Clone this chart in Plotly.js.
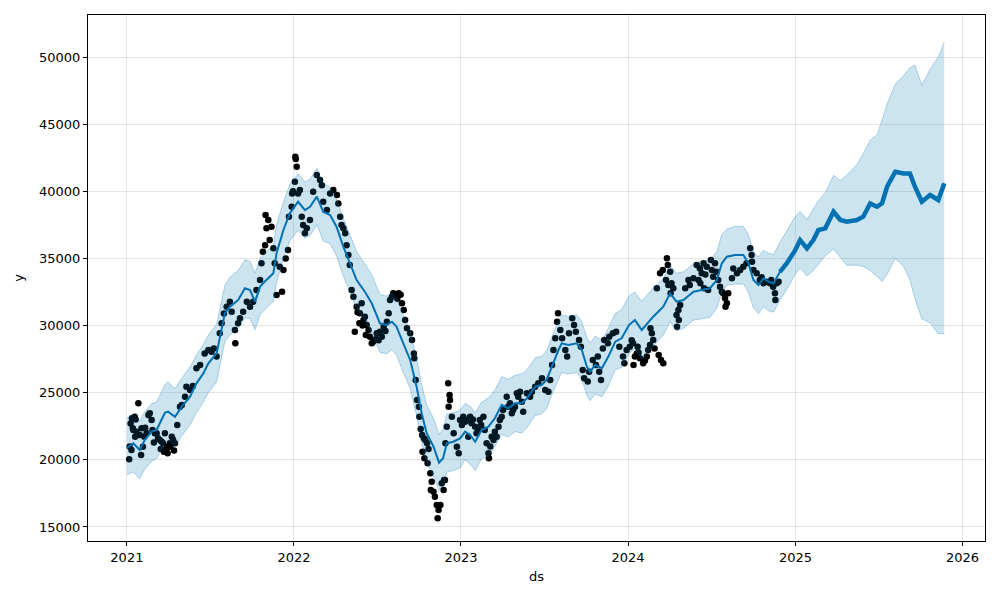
<!DOCTYPE html>
<html>
<head>
<meta charset="utf-8">
<script src="https://cdn.plot.ly/plotly-3.0.1.min.js"></script>
<style>html,body{margin:0;padding:0;background:#fff}#chart{width:1000px;height:600px}</style>
</head>
<body>
<div id="chart"></div>
<script>
// ---- observed history (ds, y) ----
const obsDates = [
'2021-01-06','2021-01-07','2021-01-11','2021-01-12','2021-01-14','2021-01-15','2021-01-18','2021-01-19','2021-01-22','2021-01-26',
'2021-01-29','2021-02-01','2021-02-02','2021-02-05','2021-02-08','2021-02-17','2021-02-20','2021-02-24','2021-02-26','2021-03-03',
'2021-03-07','2021-03-10','2021-03-14','2021-03-18','2021-03-21','2021-03-25','2021-03-29','2021-03-31','2021-04-05','2021-04-06',
'2021-04-09','2021-04-12','2021-04-16','2021-04-21','2021-04-27','2021-05-01','2021-05-08','2021-05-11','2021-05-19','2021-05-25',
'2021-06-02','2021-06-10','2021-06-20','2021-06-28','2021-07-05','2021-07-10','2021-07-16','2021-07-23','2021-07-27','2021-08-01',
'2021-08-07','2021-08-14','2021-08-18','2021-08-25','2021-08-26','2021-09-01','2021-09-05','2021-09-12','2021-09-20','2021-09-27',
'2021-10-04','2021-10-11','2021-10-19','2021-10-22','2021-10-25','2021-10-30','2021-10-31','2021-11-02','2021-11-06','2021-11-09',
'2021-11-13','2021-11-17','2021-11-20','2021-11-24','2021-12-01','2021-12-06','2021-12-09','2021-12-14','2021-12-19','2021-12-21',
'2021-12-27','2021-12-28','2021-12-30',
'2022-01-03','2022-01-04','2022-01-05','2022-01-07','2022-01-10','2022-01-14','2022-01-18','2022-01-21','2022-01-25','2022-01-29',
'2022-02-05','2022-02-12','2022-02-20','2022-02-27','2022-03-03','2022-03-06','2022-03-14','2022-03-21','2022-03-28','2022-04-05',
'2022-04-08','2022-04-12','2022-04-15','2022-04-19','2022-04-23','2022-04-26','2022-04-30','2022-05-03','2022-05-07','2022-05-11',
'2022-05-14','2022-05-18','2022-05-24','2022-05-25','2022-05-29','2022-06-02','2022-06-05','2022-06-09','2022-06-13','2022-06-16',
'2022-06-20','2022-06-27','2022-07-01','2022-07-08','2022-07-12','2022-07-16','2022-07-23','2022-07-27','2022-07-30','2022-08-03',
'2022-08-10','2022-08-18','2022-08-25','2022-08-29','2022-09-01','2022-09-05','2022-09-12','2022-09-16','2022-09-20','2022-09-21',
'2022-09-24','2022-09-27','2022-10-01','2022-10-02','2022-10-08','2022-10-09','2022-10-12','2022-10-13','2022-10-15','2022-10-19',
'2022-10-20','2022-10-26','2022-10-27','2022-10-29','2022-11-02','2022-11-05','2022-11-09','2022-11-11','2022-11-13','2022-11-17',
'2022-11-20','2022-11-24','2022-11-25','2022-11-27','2022-11-28','2022-12-01','2022-12-04','2022-12-05','2022-12-07','2022-12-08',
'2022-12-12','2022-12-16','2022-12-23','2022-12-27','2022-12-30',
'2023-01-06','2023-01-10','2023-01-13','2023-01-17','2023-01-21','2023-01-24','2023-02-01','2023-02-04','2023-02-08','2023-02-11',
'2023-02-19','2023-02-22','2023-02-26','2023-03-02','2023-03-03','2023-03-09','2023-03-13','2023-03-16','2023-03-20','2023-03-24',
'2023-03-27','2023-03-31','2023-04-03','2023-04-11','2023-04-14','2023-04-18','2023-04-22','2023-04-25','2023-04-29','2023-05-03',
'2023-05-06','2023-05-10','2023-05-14','2023-05-17','2023-05-25','2023-06-01','2023-06-05','2023-06-12','2023-06-19','2023-06-27',
'2023-07-04','2023-07-11','2023-07-15','2023-07-19','2023-07-22','2023-07-26','2023-07-30','2023-08-01','2023-08-06','2023-08-10',
'2023-08-17','2023-08-21','2023-08-25','2023-09-01','2023-09-05','2023-09-09','2023-09-16','2023-09-20','2023-09-24','2023-09-27',
'2023-10-05','2023-10-08','2023-10-16','2023-10-23','2023-10-27','2023-10-30','2023-11-03','2023-11-07','2023-11-10','2023-11-18',
'2023-11-21','2023-11-29','2023-12-06','2023-12-13','2023-12-21','2023-12-24','2023-12-29',
'2024-01-05','2024-01-12','2024-01-13','2024-01-16','2024-01-20','2024-01-22','2024-01-27','2024-02-03','2024-02-11','2024-02-14',
'2024-02-18','2024-02-19','2024-02-22','2024-02-25','2024-03-04','2024-03-08','2024-03-11','2024-03-13','2024-03-17','2024-03-18',
'2024-03-24','2024-03-26','2024-03-28','2024-03-29','2024-04-02','2024-04-03','2024-04-05','2024-04-09','2024-04-16','2024-04-17',
'2024-04-20','2024-04-21','2024-04-24','2024-05-05','2024-05-12','2024-05-15','2024-05-23','2024-05-30','2024-06-03','2024-06-06',
'2024-06-07','2024-06-10','2024-06-14','2024-06-15','2024-06-21','2024-06-24','2024-06-30','2024-07-02','2024-07-05','2024-07-09',
'2024-07-20','2024-07-24','2024-07-27','2024-07-31','2024-08-01','2024-08-04','2024-08-07','2024-08-15','2024-08-18','2024-08-26',
'2024-09-02','2024-09-09','2024-09-16','2024-09-24','2024-09-27','2024-09-28','2024-10-01','2024-10-08','2024-10-15','2024-10-23',
'2024-10-30','2024-11-06','2024-11-13','2024-11-17','2024-11-18','2024-11-21','2024-11-25',
// extra points in the dense clusters
'2021-01-09','2021-01-20','2021-02-10','2021-02-13','2021-03-01','2021-03-16','2021-03-23','2021-04-02','2021-04-14',
'2022-05-20','2022-05-31','2022-06-07','2022-06-23','2022-06-30','2022-07-05','2022-07-20','2022-08-06','2022-08-15','2022-08-22',
'2022-10-05','2022-10-22','2023-01-03','2023-01-27','2023-02-14','2023-03-06',
'2024-01-09','2024-01-24','2024-02-07','2024-02-28','2024-06-18','2024-07-12','2024-07-16','2024-10-19','2024-11-09'
];
const obsValues = [
20040,21000,20730,23100,22350,22220,23210,21720,22100,24210,
21850,20360,22350,20980,21720,23340,23470,22970,22220,21980,
21980,21600,21480,21350,21230,21980,20860,20490,21230,20980,
21720,21500,21230,22600,23960,24090,24700,25450,25200,25500,
26820,27060,27930,28180,28050,28300,27690,29420,30170,30900,
31400,31780,31030,29670,28680,30170,30540,31030,31780,31400,
31780,32650,33390,34640,35500,35990,38230,37240,37860,36370,
37360,35750,34640,32280,34390,32520,34140,35000,35630,38110,
38850,39840,40000,
40710,42570,42400,41830,39840,40090,38110,37490,36870,37240,
37860,39970,41210,40840,40460,39230,38600,39840,40090,39720,
39100,38110,37490,37240,36870,35990,35260,34510,32650,32150,
29540,31400,30170,30910,31660,30420,30660,30040,29670,29170,
28680,28930,29420,29540,29170,29920,30290,30910,31900,32150,
32280,32400,31660,31160,30420,29800,29420,28930,27930,27560,
25950,24460,23960,23210,21850,20610,21600,20120,21480,21230,
19740,19000,17760,18370,17630,17260,16640,15650,16270,16640,
18250,17760,18500,18500,21230,22470,25700,23960,24830,24460,
23210,21980,20980,20490,22970,
23210,22840,22970,21720,23210,22720,22470,21980,22220,22970,
23210,22220,21230,20490,20120,21720,21480,22100,21720,22470,
22970,23210,23710,24700,23960,24210,23470,23710,23960,24960,
24700,25080,24330,23590,24960,24700,25080,25450,25700,26070,
25200,25080,25950,27060,28180,29050,30290,30910,29670,29050,
28180,27690,29420,30540,30040,29540,28930,28430,26690,26070,
25830,26570,27440,27060,27690,26570,25950,28300,28930,28680,
29170,29420,29540,28430,27690,27190,28180,
28430,28680,27060,27690,27930,28430,27560,27190,27690,28180,
28550,29800,29420,28930,32780,27810,33890,27440,34140,27190,
33390,35010,34510,33020,34010,32400,33150,32780,30790,29920,
31160,30420,31530,32780,33390,33020,33520,34510,33390,34260,
33150,33890,34640,32780,34390,32650,34880,34140,33640,34640,
32900,32520,32400,32030,31400,31660,32400,33520,34260,33890,
34140,34390,34640,35750,35260,34760,34140,33890,33390,33150,
33270,33150,32900,32400,31900,33150,33270,
22700,23000,22400,22000,21300,20800,20600,21000,20700,
31000,30000,29300,28800,29000,28900,29600,32400,32000,32300,
22300,20800,22600,23000,22600,21000,
28900,28000,27400,28300,33800,34000,33400,33600,33400
];

// ---- forecast (ds, yhat, yhat_lower, yhat_upper) ----
const fcDates = [
'2021-01-01','2021-01-15','2021-01-29','2021-02-09','2021-02-24','2021-03-07','2021-03-25','2021-04-01','2021-04-16','2021-05-01',
'2021-05-19','2021-06-02','2021-06-17','2021-06-28','2021-07-16','2021-07-23','2021-08-03','2021-08-14','2021-09-01','2021-09-16',
'2021-09-27','2021-10-08','2021-10-19','2021-11-02','2021-11-17','2021-11-24','2021-12-09','2021-12-23','2022-01-10','2022-01-25',
'2022-02-05','2022-02-20','2022-03-06','2022-03-21','2022-04-04','2022-04-19','2022-05-03','2022-05-18','2022-06-05','2022-06-20',
'2022-07-08','2022-07-23','2022-08-03','2022-08-13','2022-08-28','2022-09-12','2022-09-26','2022-10-07','2022-10-18','2022-11-02',
'2022-11-14','2022-11-23','2022-12-01','2022-12-15','2022-12-30','2023-01-10','2023-01-21','2023-02-01','2023-02-15','2023-03-02',
'2023-03-16','2023-03-31','2023-04-14','2023-04-29','2023-05-14','2023-05-25','2023-06-12','2023-06-26','2023-07-07','2023-07-18',
'2023-08-02','2023-08-09','2023-08-24','2023-09-11','2023-09-22','2023-10-03','2023-10-10','2023-10-21','2023-11-05','2023-11-19',
'2023-12-04','2023-12-18','2024-01-03','2024-01-16','2024-01-31','2024-02-25','2024-03-18','2024-04-02','2024-04-16','2024-05-01',
'2024-05-23','2024-06-10','2024-06-28','2024-07-13','2024-07-24','2024-08-04','2024-08-22','2024-09-09','2024-09-20','2024-10-01',
'2024-10-12','2024-10-23','2024-11-03','2024-11-14','2024-11-28','2024-12-13','2024-12-31','2025-01-11','2025-01-26','2025-02-09',
'2025-02-20','2025-03-07','2025-03-25','2025-04-09','2025-04-23','2025-05-15','2025-05-29','2025-06-13','2025-06-28','2025-07-09',
'2025-07-20','2025-08-07','2025-08-25','2025-09-08','2025-09-19','2025-10-04','2025-10-22','2025-11-09','2025-11-22'
];
const yhat = [
20900,21230,20730,21480,22100,22220,23500,23590,23210,23960,
24700,25700,26440,27190,27930,29170,30910,31400,31900,32780,
32650,31780,32900,33400,33900,35380,37120,38360,39230,38600,
38850,39600,38480,38230,37360,35870,34640,33390,32520,31660,
30170,30040,30290,29920,28680,27440,25450,23470,21980,20980,
19790,20120,21230,21350,21600,22100,21850,21350,22220,22470,
23100,24090,23840,24210,24210,24580,25450,25570,25950,26940,
28180,28680,28550,28680,28180,26940,26570,27060,26820,27690,
28800,29050,30040,30410,29670,30660,31410,32400,31780,31900,
32520,32650,32780,33390,34640,35130,35260,35260,34640,33390,
33020,33520,33270,33150,34000,34640,35600,36370,35750,36370,
37120,37240,38480,37860,37730,37860,38110,39100,38850,39100,
40340,41460,41330,41330,40340,39230,39720,39350,40590
];
const yhatLower = [
18900,19100,18600,19300,19900,20100,21300,21500,21000,21800,
22600,23500,24300,25000,25800,27000,28800,29300,29800,30600,
30500,29700,30800,31300,31800,33200,35000,36300,37100,36500,
36700,37500,36300,36100,35200,33700,32500,31300,30400,29500,
28000,27900,28200,27800,26500,25300,23300,21300,19800,18800,
17700,18000,19100,19200,19400,20000,19700,19200,20100,20300,
21000,21900,21700,22100,22000,22400,23300,23400,23800,24800,
26000,26500,26400,26500,26000,24800,24400,24900,24700,25500,
26700,26900,27900,28300,27500,28500,29300,30300,29600,29800,
30400,30500,30600,31300,32500,33000,33100,33100,32500,31300,
30900,31400,31100,31000,31900,32700,33800,34300,33700,34100,
34600,35200,35700,35100,34500,34500,34400,34100,33600,33300,
33800,35000,34400,33400,32000,30500,30200,29400,29400
];
const yhatUpper = [
23100,23400,22900,23600,24200,24300,25600,25800,25300,26100,
26900,27800,28600,29300,30100,31300,33000,33600,34100,34900,
34800,33900,35000,35500,36000,37500,39200,40500,41300,40700,
40900,41700,40600,40300,39400,38000,36800,35500,34600,33800,
32300,32200,32400,32000,30800,29600,27600,25600,24100,23100,
21900,22300,23400,23500,23700,24200,24000,23500,24300,24600,
25200,26200,26000,26300,26400,26700,27600,27700,28100,29100,
30300,30800,30700,30800,30300,29100,28700,29200,28900,29800,
30900,31200,32200,32500,31800,32800,33500,34500,33900,34000,
34600,34800,34900,35500,36800,37200,37400,37400,36800,35500,
35100,35600,35400,35300,36200,37100,38100,38500,37900,38700,
39300,39900,41200,40800,41200,42000,42800,43800,44200,45300,
46500,48000,48600,49200,49400,47900,49100,50000,51100
];
const forecastStart = '2024-11-28';

const yTickVals = [15000,20000,25000,30000,35000,40000,45000,50000];
const xTickVals = ['2021-01-01','2022-01-01','2023-01-01','2024-01-01','2025-01-01','2026-01-01'];
const xTickText = ['2021','2022','2023','2024','2025','2026'];

// future part of the forecast line (drawn thicker, as the weekly wiggle makes it look)
const futIdx = fcDates.map((d,i)=>i).filter(i => fcDates[i] >= forecastStart);
const futDates = futIdx.map(i=>fcDates[i]);
const futYhat = futIdx.map(i=>yhat[i]);

const blue = '#0072B2';
const traces = [
  {type:'scatter', mode:'markers', x:obsDates, y:obsValues,
   marker:{color:'black', size:6.5, line:{width:0}}, hoverinfo:'skip', showlegend:false},
  {type:'scatter', mode:'lines', x:fcDates, y:yhat, line:{color:blue, width:2}, showlegend:false},
  {type:'scatter', mode:'lines', x:futDates, y:futYhat, line:{color:blue, width:4.5}, showlegend:false},
  {type:'scatter', mode:'lines', x:fcDates, y:yhatLower,
   line:{color:'rgba(0,114,178,0.28)', width:1}, showlegend:false},
  {type:'scatter', mode:'lines', x:fcDates, y:yhatUpper, fill:'tonexty',
   fillcolor:'rgba(0,114,178,0.2)', line:{color:'rgba(0,114,178,0.28)', width:1}, showlegend:false}
];

const axisCommon = {
  showline:true, linecolor:'black', linewidth:1, mirror:true,
  ticks:'outside', ticklen:4, tickwidth:1, tickcolor:'black',
  showgrid:true, gridcolor:'rgba(128,128,128,0.2)', gridwidth:1,
  zeroline:false, automargin:false,
  tickfont:{family:'DejaVu Sans', size:13, color:'black'}
};

const layout = {
  width:1000, height:600,
  margin:{l:88, r:15, t:15, b:59},
  paper_bgcolor:'white', plot_bgcolor:'white',
  font:{family:'DejaVu Sans', size:13, color:'black'},
  showlegend:false,
  xaxis: Object.assign({}, axisCommon, {
    type:'date', range:['2020-10-08','2026-02-19'],
    tickmode:'array', tickvals:xTickVals, ticktext:xTickText,
    title:{text:'ds', font:{family:'DejaVu Sans', size:13, color:'black'}, standoff:8}
  }),
  yaxis: Object.assign({}, axisCommon, {
    range:[13957, 53130],
    tickmode:'array', tickvals:yTickVals, ticktext:yTickVals.map(String),
    title:{text:'y', font:{family:'DejaVu Sans', size:13, color:'black'}, standoff:12}
  })
};

Plotly.newPlot('chart', traces, layout, {displayModeBar:false, staticPlot:true});
</script>
</body>
</html>
